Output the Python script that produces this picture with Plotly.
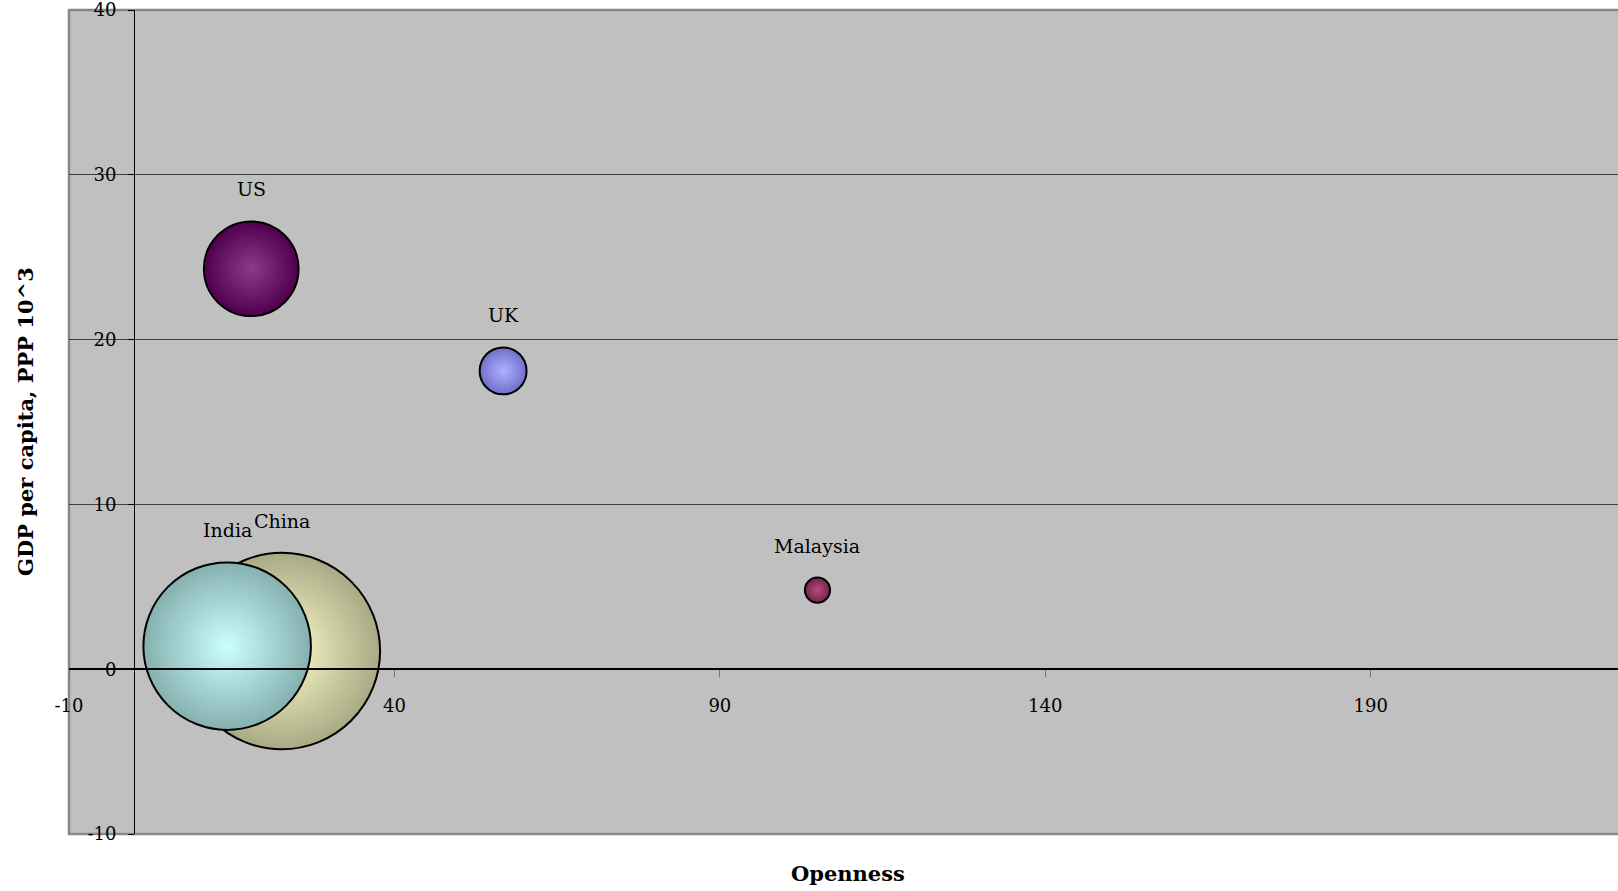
import math
import plotly.graph_objects as go

# ---- data ----
countries = ["China", "India", "US", "UK", "Malaysia"]
openness = [22.7, 14.3, 18.0, 56.7, 105.0]
gdp_pc = [1.1, 1.4, 24.3, 18.1, 4.8]
population = [1280, 930, 297, 73, 21]
edge_colors = ["#a9a985", "#86b0b0", "#4e004e", "#7070cc", "#742448"]
center_colors = ["#ffffcc", "#ccffff", "#8a3a8a", "#b0b0ff", "#b54d80"]

x_ticks = [-10, 40, 90, 140, 190]
x_tick_text = ["-10", "40", "90", "140", "190"]
y_ticks = [-10, 0, 10, 20, 30, 40]
y_tick_text = ["-10", "0", "10", "20", "30", "40"]

FONT = "DejaVu Serif"
max_diam = 196.5
sizeref = 2.0 * max(population) / (max_diam ** 2)

fig = go.Figure()
for c, xv, yv, p, ec, cc in zip(countries, openness, gdp_pc, population, edge_colors, center_colors):
    fig.add_trace(go.Scatter(
        x=[xv], y=[yv], mode="markers", name=c,
        marker=dict(size=[p], sizemode="area", sizeref=sizeref, color=ec,
                    gradient=dict(type="radial", color=cc),
                    line=dict(color="black", width=2), opacity=1),
        hoverinfo="text", text=[c], showlegend=False,
    ))
    r = math.sqrt(p / (2 * sizeref))
    fig.add_annotation(x=xv, y=yv, text=c, showarrow=False, yshift=r + 32,
                       yanchor="middle", font=dict(family=FONT, size=19, color="black"))

fig.update_layout(
    width=1618, height=891,
    margin=dict(l=69, r=0, t=10, b=57),
    paper_bgcolor="white", plot_bgcolor="#c0c0c0",
    font=dict(family=FONT, color="black"),
    xaxis=dict(range=[-10, 228], tickvals=x_ticks, ticktext=x_tick_text, ticks="outside", ticklen=7,
               tickcolor="#777", showline=True, linecolor="black", linewidth=1.5,
               anchor="free", position=0.2, showgrid=False, zeroline=False,
               tickfont=dict(family=FONT, size=18), ticklabelstandoff=13,
               ticklabeloverflow="allow"),
    yaxis=dict(range=[-10, 40.0001], tickvals=y_ticks, ticktext=y_tick_text, ticks="outside", ticklen=6,
               tickcolor="black", showline=True, linecolor="black", linewidth=1.2,
               anchor="free", position=10 / 238, showgrid=True, gridcolor="#404040",
               gridwidth=1, zeroline=False, tickfont=dict(family=FONT, size=18),
               ticklabelstandoff=8, ticklabeloverflow="allow"),
)
# plot border (left/top/bottom)
fig.add_shape(type="rect", xref="paper", yref="paper", x0=0, x1=1.02, y0=0, y1=1,
              line=dict(color="#888888", width=2.5), layer="below")
fig.add_annotation(xref="paper", yref="paper", x=(848 - 69) / 1549, y=0, yshift=-39,
                   text="<b>Openness</b>", showarrow=False, yanchor="middle",
                   font=dict(family=FONT, size=21))
fig.add_annotation(xref="paper", yref="paper", x=0, xshift=-44, y=0.5,
                   text="<b>GDP per capita, PPP 10^3</b>", showarrow=False,
                   textangle=-90, xanchor="center", yanchor="middle",
                   font=dict(family=FONT, size=21))
fig.write_html("out.html")
